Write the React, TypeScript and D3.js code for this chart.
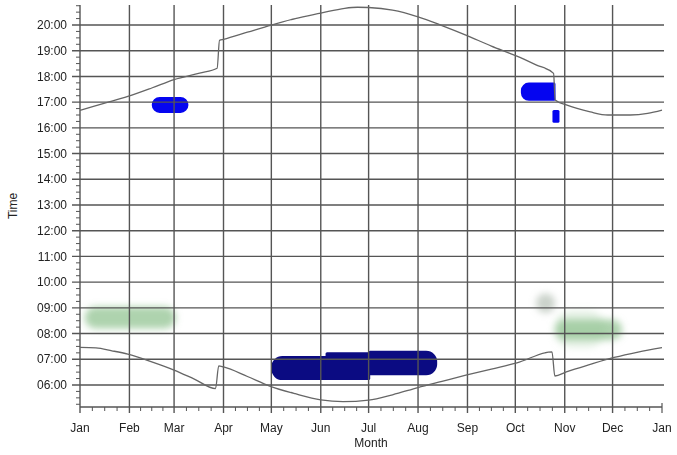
import React from "react";
import * as d3 from "d3";

// ---- data ----
const monthLabels = ["Jan", "Feb", "Mar", "Apr", "May", "Jun", "Jul", "Aug", "Sep", "Oct", "Nov", "Dec", "Jan"];
const monthStartDays = [0, 31, 59, 90, 120, 151, 181, 212, 243, 273, 304, 334, 365];
const hourTicks = [6, 7, 8, 9, 10, 11, 12, 13, 14, 15, 16, 17, 18, 19, 20];
const timeDomain = [5.144, 20.778];

// sunset (day of year, hour)
const sunset: [number, number][] = [
  [0, 16.68], [15, 16.95], [30, 17.22], [45, 17.55], [59, 17.88], [75, 18.13], [86, 18.32],
  [87.5, 19.4], [90, 19.44], [105, 19.72], [120, 20.0], [135, 20.25], [151, 20.46], [166, 20.65],
  [174, 20.69], [181, 20.68], [196, 20.58], [212, 20.32], [227, 19.98], [242, 19.61], [258, 19.18],
  [274, 18.79], [286, 18.45], [297, 18.12], [298, 17.08], [305, 16.89], [320, 16.62], [331, 16.5],
  [345, 16.5], [356, 16.56], [365, 16.69],
];
// sunrise (day of year, hour)
const sunrise: [number, number][] = [
  [0, 7.46], [10, 7.44], [20, 7.33], [30, 7.2], [45, 6.9], [59, 6.58], [72, 6.22], [85, 5.86],
  [87, 6.74], [90, 6.7], [105, 6.33], [119, 5.96], [135, 5.66], [151, 5.42], [165, 5.35], [181, 5.41],
  [196, 5.62], [212, 5.9], [227, 6.14], [242, 6.38], [258, 6.62], [274, 6.86], [296, 7.29],
  [297.8, 6.35], [305, 6.51], [320, 6.8], [335, 7.07], [350, 7.28], [365, 7.45],
];

// activity regions: day range, hour range, rounded ends (left/right)
const navyRegions = [
  { d0: 120, d1: 158, t0: 6.19, t1: 7.13, roundL: true, roundR: false },
  { d0: 154, d1: 182, t0: 6.19, t1: 7.27, roundL: false, roundR: false },
  { d0: 181, d1: 224, t0: 6.38, t1: 7.33, roundL: false, roundR: true },
];
const blueRegions = [
  { d0: 45, d1: 68, t0: 16.58, t1: 17.2, roundL: true, roundR: true },
  { d0: 276.5, d1: 298.2, t0: 17.05, t1: 17.76, roundL: true, roundR: false },
  { d0: 296.3, d1: 300.7, t0: 16.2, t1: 16.69, roundL: false, roundR: false },
];
const faintRegions = [
  { d0: 3, d1: 60, t0: 8.2, t1: 9.04, tone: "green" },
  { d0: 286, d1: 298, t0: 8.8, t1: 9.56, tone: "grey" },
  { d0: 297, d1: 330, t0: 7.45, t1: 8.9, tone: "pale" },
  { d0: 298, d1: 340, t0: 7.75, t1: 8.55, tone: "green" },
];

const W = 677;
const H = 455;
const L = 80, R = 662, T = 5, B = 407;
const gridColor = "#555";
const font = "'Liberation Sans', Arial, sans-serif";

function roundedPath(x0: number, y0: number, x1: number, y1: number, rl: number, rr: number) {
  const p = d3.path();
  p.moveTo(x0 + rl, y0);
  p.lineTo(x1 - rr, y0);
  if (rr > 0) p.arcTo(x1, y0, x1, y0 + rr, rr);
  p.lineTo(x1, y1 - rr);
  if (rr > 0) p.arcTo(x1, y1, x1 - rr, y1, rr);
  p.lineTo(x0 + rl, y1);
  if (rl > 0) p.arcTo(x0, y1, x0, y1 - rl, rl);
  p.lineTo(x0, y0 + rl);
  if (rl > 0) p.arcTo(x0, y0, x0 + rl, y0, rl);
  p.closePath();
  return p.toString();
}

export default function App() {
  const x = d3.scaleLinear().domain([0, 365]).range([L, R]);
  const y = d3.scaleLinear().domain(timeDomain).range([B, T]);

  const line = d3
    .line<[number, number]>()
    .x((d) => x(d[0]))
    .y((d) => y(d[1]))
    .curve(d3.curveMonotoneX);

  const minorX: number[] = [];
  for (let i = 0; i < 12; i++) {
    const a = monthStartDays[i], b = monthStartDays[i + 1];
    for (let k = 1; k < 4; k++) minorX.push(a + ((b - a) * k) / 4);
  }
  const minorY: number[] = [];
  for (let t = Math.ceil(timeDomain[0] * 4) / 4; t <= timeDomain[1]; t += 0.25) {
    if (Math.abs(t - Math.round(t)) > 1e-6) minorY.push(t);
  }
  const faintColor: Record<string, string> = { green: "#8fc28f", grey: "#a7b4a7", pale: "#bddcbd" };
  const faintOpacity: Record<string, number> = { green: 0.72, grey: 0.6, pale: 0.4 };
  const fmt = (h: number) => (h < 10 ? "0" : "") + h + ":00";

  const region = (r: any, key: string, fill: string, maxR: number) => {
    const x0 = x(r.d0), x1 = x(r.d1), y0 = y(r.t1), y1 = y(r.t0);
    const rad = Math.min(maxR, (y1 - y0) / 2, (x1 - x0) / 2);
    return (
      <path key={key} d={roundedPath(x0, y0, x1, y1, r.roundL ? rad : 1.5, r.roundR ? rad : 1.5)} fill={fill} />
    );
  };

  return (
    <svg width={W} height={H} style={{ position: "absolute", left: 0, top: 0, background: "#fff" }}>
      <defs>
        <filter id="blur" x="-30%" y="-60%" width="160%" height="220%">
          <feGaussianBlur stdDeviation="3.5" />
        </filter>
      </defs>
      <rect x={0} y={0} width={W} height={H} fill="#fff" />

      {/* faint regions */}
      <g filter="url(#blur)">
        {faintRegions.map((r, i) => (
          <rect
            key={i}
            x={x(r.d0)}
            y={y(r.t1)}
            width={x(r.d1) - x(r.d0)}
            height={y(r.t0) - y(r.t1)}
            rx={Math.min((y(r.t0) - y(r.t1)) / 2, (x(r.d1) - x(r.d0)) / 2)}
            fill={faintColor[r.tone]}
            opacity={faintOpacity[r.tone]}
          />
        ))}
      </g>
      {navyRegions.map((r, i) => region(r, "n" + i, "#0b0b82", 11))}
      {blueRegions.map((r, i) => region(r, "b" + i, "#0505f0", 8))}

      {/* grid */}
      {hourTicks.map((h) => (
        <line key={"gh" + h} x1={L - 8} x2={R + 2} y1={y(h)} y2={y(h)} stroke={gridColor} strokeWidth={1.4} />
      ))}
      {monthStartDays.slice(1, 12).map((d) => (
        <line key={"gv" + d} x1={x(d)} x2={x(d)} y1={T} y2={B + 6} stroke={gridColor} strokeWidth={1.4} />
      ))}

      {/* axes */}
      <line x1={L} x2={L} y1={T} y2={B + 6} stroke={gridColor} strokeWidth={1.4} />
      <line x1={L} x2={R} y1={B} y2={B} stroke={gridColor} strokeWidth={1.4} />
      <line x1={R} x2={R} y1={B - 4} y2={B + 6} stroke={gridColor} strokeWidth={1.2} />
      {minorY.map((t, i) => (
        <line key={"my" + i} x1={L - 4} x2={L} y1={y(t)} y2={y(t)} stroke={gridColor} strokeWidth={1} />
      ))}
      {minorX.map((d, i) => (
        <line key={"mx" + i} x1={x(d)} x2={x(d)} y1={B} y2={B + 4} stroke={gridColor} strokeWidth={1} />
      ))}

      {/* curves */}
      <path d={line(sunset) || ""} fill="none" stroke="#666" strokeWidth={1.3} />
      <path d={line(sunrise) || ""} fill="none" stroke="#666" strokeWidth={1.3} />

      {/* labels */}
      {hourTicks.map((h) => (
        <text key={"ty" + h} x={L - 13} y={y(h)} dy="0.35em" textAnchor="end" fontFamily={font} fontSize={12} fill="#222">
          {fmt(h)}
        </text>
      ))}
      {monthStartDays.map((d, i) => (
        <text key={"tx" + i} x={x(d)} y={432} textAnchor="middle" fontFamily={font} fontSize={12} fill="#222">
          {monthLabels[i]}
        </text>
      ))}
      <text x={(L + R) / 2} y={447} textAnchor="middle" fontFamily={font} fontSize={12} fill="#222">
        Month
      </text>
      <text transform={`translate(17,${(T + B) / 2}) rotate(-90)`} textAnchor="middle" fontFamily={font} fontSize={12} fill="#222">
        Time
      </text>
    </svg>
  );
}
